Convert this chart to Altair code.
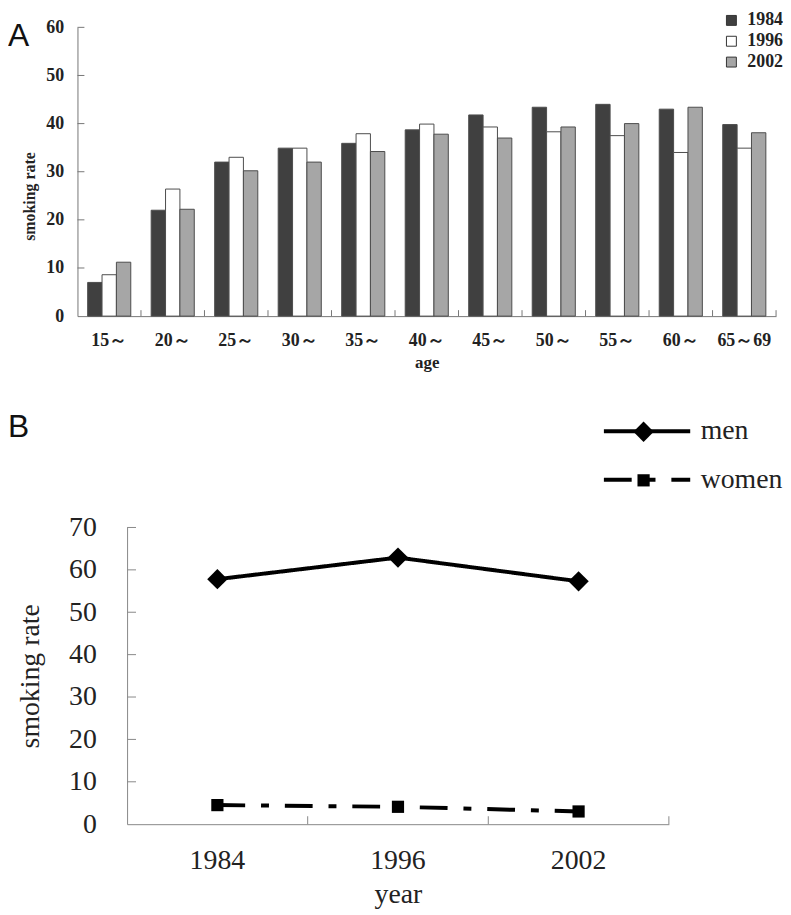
import altair as alt
import pandas as pd

# ---------------- data ----------------
ages = ["15～", "20～", "25～", "30～", "35～", "40～", "45～", "50～", "55～", "60～", "65～69"]
survey_years = ["1984", "1996", "2002"]
rate_1984 = [7.0, 22.0, 32.0, 34.9, 35.9, 38.7, 41.8, 43.4, 44.0, 43.0, 39.8]
rate_1996 = [8.6, 26.4, 33.0, 34.9, 37.9, 39.9, 39.3, 38.3, 37.5, 34.0, 34.9]
rate_2002 = [11.2, 22.2, 30.2, 32.0, 34.2, 37.8, 37.0, 39.3, 40.0, 43.4, 38.1]
bar_colors = ["#404040", "#ffffff", "#a6a6a6"]
yticks_a = [0, 10, 20, 30, 40, 50, 60]

years_b = ["1984", "1996", "2002"]
sexes = ["men", "women"]
men = [57.8, 62.9, 57.3]
women = [4.5, 4.1, 3.0]
yticks_b = [0, 10, 20, 30, 40, 50, 60, 70]

SERIF = "Liberation Serif"
SANS = "Liberation Sans"

# ---------------- panel A ----------------
rows = []
for yr, vals in zip(survey_years, [rate_1984, rate_1996, rate_2002]):
    for a, v in zip(ages, vals):
        rows.append({"age": a, "year": yr, "rate": v})
dfA = pd.DataFrame(rows)

WA, HA = 704, 291
xscaleA = alt.Scale(type="band", paddingInner=0, paddingOuter=0)
yscaleA = alt.Scale(domain=[0, 60], nice=False, zero=True)
xaxisA = alt.Axis(title="age", ticks=False, labelAngle=0, labelPadding=16,
                  titlePadding=5, domainColor="#777", domainWidth=1,
                  labelFont=SERIF, labelFontSize=18, labelFontWeight="bold",
                  labelColor="#222", titleFont=SERIF, titleFontSize=17,
                  titleFontWeight="bold", titleColor="#222")
yaxisA = alt.Axis(values=yticks_a, ticks=False, grid=False, title="smoking rate",
                  labelPadding=14, titlePadding=8, titleY=170, domainColor="#777",
                  domainWidth=1, labelFont=SERIF, labelFontSize=18,
                  labelFontWeight="bold", labelColor="#222", titleFont=SERIF,
                  titleFontSize=16, titleFontWeight="bold", titleColor="#222")

bars = alt.Chart(dfA).mark_bar(stroke="#4d4d4d", strokeWidth=1).encode(
    x=alt.X("age:N", sort=ages, scale=xscaleA, axis=xaxisA),
    xOffset=alt.XOffset("year:N", sort=survey_years,
                        scale=alt.Scale(paddingInner=0, paddingOuter=0.71)),
    y=alt.Y("rate:Q", scale=yscaleA, axis=yaxisA),
    fill=alt.Fill("year:N", sort=survey_years,
                  scale=alt.Scale(domain=survey_years, range=bar_colors),
                  legend=alt.Legend(title=None, orient="none", legendX=650, legendY=-16,
                                    symbolType="square", symbolSize=100,
                                    symbolStrokeColor="#333", symbolStrokeWidth=1,
                                    labelFont=SERIF, labelFontSize=18,
                                    labelFontWeight="bold", labelColor="#222",
                                    labelOffset=7, rowPadding=3, padding=0)),
)

ytickA = alt.Chart(pd.DataFrame({"rate": yticks_a[1:]})).mark_rule(color="#777").encode(
    y=alt.Y("rate:Q", scale=yscaleA, axis=yaxisA), x=alt.value(0), x2=alt.value(7))
xtickA = alt.Chart(pd.DataFrame({"age": ages})).mark_rule(color="#777").encode(
    x=alt.X("age:N", sort=ages, scale=xscaleA, bandPosition=1, axis=xaxisA),
    y=alt.value(HA - 6), y2=alt.value(HA))
labA = alt.Chart(pd.DataFrame({"t": ["A"]})).mark_text(
    font=SANS, fontSize=32, align="left", baseline="alphabetic", color="#111").encode(
    text="t:N", x=alt.value(-70), y=alt.value(19))

panelA = alt.layer(bars, ytickA, xtickA, labA).properties(width=WA, height=HA)

# ---------------- panel B ----------------
rowsB = []
for s, vals in zip(sexes, [men, women]):
    for yr, v in zip(years_b, vals):
        rowsB.append({"year": yr, "sex": s, "sex2": s, "rate": v})
dfB = pd.DataFrame(rowsB)

SHIFT = 50            # panel B's axis sits 50px right of panel A's
WB, HB = 546 + SHIFT, 299
xscaleB = alt.Scale(type="band", paddingInner=0, paddingOuter=0, range=[SHIFT, WB])
yscaleB = alt.Scale(domain=[0, 70], nice=False, zero=True)
xaxisB = alt.Axis(title="year", ticks=False, labelAngle=0, labelPadding=23,
                  titlePadding=6, domainColor="#888", domainWidth=1,
                  labelFont=SERIF, labelFontSize=28, labelColor="#222",
                  titleFont=SERIF, titleFontSize=28, titleFontWeight="normal",
                  titleColor="#222")
yaxisB = alt.Axis(values=yticks_b, ticks=False, grid=False, title="smoking rate",
                  offset=-SHIFT, labelPadding=31, titlePadding=24, domainColor="#888",
                  domainWidth=1, labelFont=SERIF, labelFontSize=28,
                  labelColor="#222", titleFont=SERIF, titleFontSize=28,
                  titleFontWeight="normal", titleColor="#222")
xB = alt.X("year:N", sort=years_b, scale=xscaleB, axis=xaxisB)
yB = alt.Y("rate:Q", scale=yscaleB, axis=yaxisB)

lineB = alt.Chart(dfB).mark_line(color="black", strokeWidth=4).encode(
    x=xB, y=yB,
    strokeDash=alt.StrokeDash("sex:N", sort=sexes,
                              scale=alt.Scale(domain=sexes, range=[[1, 0], [28, 16, 8, 16]]),
                              legend=alt.Legend(title=None, orient="none", legendX=560,
                                                legendY=-111, symbolType="M-4,0H4",
                                                symbolSize=473, symbolStrokeWidth=4,
                                                symbolStrokeColor="black",
                                                labelFont=SERIF, labelFontSize=28,
                                                labelColor="#222", labelOffset=40,
                                                rowPadding=21, padding=0)),
)
pointB = alt.Chart(dfB).mark_point(filled=True, color="black", size=420, opacity=1).encode(
    x=xB, y=yB,
    shape=alt.Shape("sex2:N",
                    scale=alt.Scale(range=["diamond", "M-0.6,-0.6H0.6V0.6H-0.6Z"]),
                    legend=alt.Legend(title=None, orient="none", legendX=560,
                                      legendY=-107, symbolSize=420,
                                      symbolFillColor="black", symbolStrokeWidth=0,
                                      labelExpr="''", labelFontSize=1,
                                      labelOpacity=0, labelOffset=2,
                                      rowPadding=28, padding=0)),
)
ytickB = alt.Chart(pd.DataFrame({"rate": yticks_b[1:]})).mark_rule(color="#888").encode(
    y=alt.Y("rate:Q", scale=yscaleB, axis=yaxisB),
    x=alt.value(SHIFT), x2=alt.value(SHIFT + 9))
xtickB = alt.Chart(pd.DataFrame({"year": years_b})).mark_rule(color="#888").encode(
    x=alt.X("year:N", sort=years_b, scale=xscaleB, bandPosition=1, axis=xaxisB),
    y=alt.value(HB - 8), y2=alt.value(HB))
labB = alt.Chart(pd.DataFrame({"t": ["B"]})).mark_text(
    font=SANS, fontSize=32, align="left", baseline="alphabetic", color="#111").encode(
    text="t:N", x=alt.value(-70), y=alt.value(-91))

panelB = alt.layer(lineB, pointB, ytickB, xtickB, labB).properties(width=WB, height=HB)

chart = alt.concat(panelA, panelB, columns=1, align="none", spacing=41).resolve_scale(
    fill="independent", strokeDash="independent", shape="independent"
).properties(padding=0, background="white").configure_view(stroke=None)

chart.save("out.html", embed_options={"renderer": "svg", "actions": False})
